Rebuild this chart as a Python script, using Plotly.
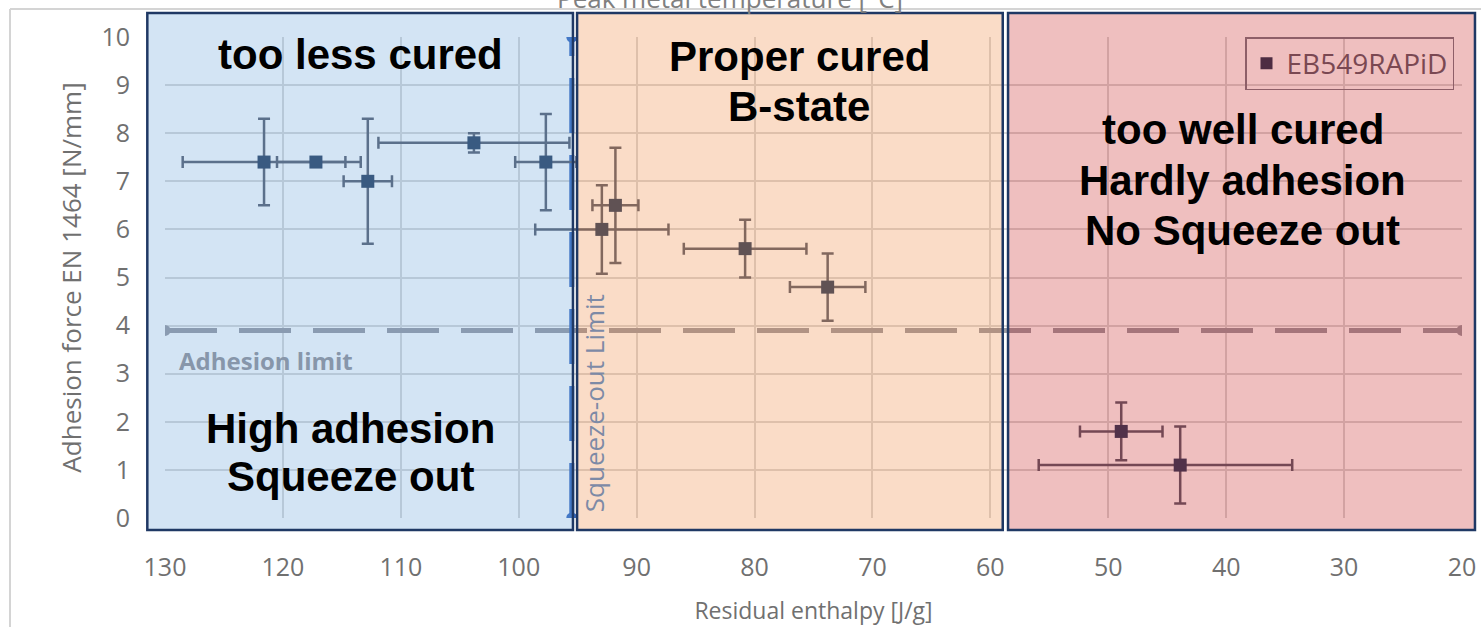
import plotly.graph_objects as go

# Residual enthalpy [J/g] of each sample and its horizontal spread
enthalpy = [121.6, 117.2, 112.8, 103.8, 97.7, 92.95, 91.8, 80.8, 73.8, 48.9, 43.9]
enthalpy_plus = [6.9, 3.3, 2.05, 8.1, 2.6, 5.65, 1.95, 5.2, 3.2, 3.5, 12.0]
enthalpy_minus = [8.2, 2.5, 2.05, 8.1, 2.6, 5.65, 1.95, 5.2, 3.2, 3.5, 9.5]

# Adhesion force EN 1464 [N/mm] and its spread
adhesion = [7.4, 7.4, 7.0, 7.8, 7.4, 6.0, 6.5, 5.6, 4.8, 1.8, 1.1]
adhesion_err = [0.9, 0.0, 1.3, 0.2, 1.0, 0.92, 1.2, 0.6, 0.7, 0.6, 0.8]

series_name = "EB549RAPiD"

# Limit lines
adhesion_limit_x = [130, 20]
adhesion_limit_y = [3.9, 3.9]
squeeze_limit_x = [95.5, 95.5]
squeeze_limit_y = [0, 10]

# Axis setup
x_range = [130, 20]
y_range = [0, 10]
x_ticks = [130, 120, 110, 100, 90, 80, 70, 60, 50, 40, 30, 20]
y_ticks = list(range(0, 11))

# Curing regions (enthalpy bounds) and their tints
regions = [
    dict(x0=131.5, x1=95.4, fill="rgba(91,155,213,0.27)"),
    dict(x0=95.05, x1=58.95, fill="rgba(237,125,49,0.27)"),
    dict(x0=58.5, x1=18.9, fill="rgba(192,0,0,0.25)"),
]
region_y = (-0.25, 10.5)

W, H = 1481, 627
M = dict(l=165, r=19, t=37, b=109)
plot_w = W - M["l"] - M["r"]
plot_h = H - M["t"] - M["b"]


def xpaper(v):
    return (x_range[0] - v) / (x_range[0] - x_range[1])


def ypaper(v):
    return (v - y_range[0]) / (y_range[1] - y_range[0])


def px_x(p):
    return (p - M["l"]) / plot_w


def px_y(p):
    return (H - M["b"] - p) / plot_h


fig = go.Figure()

fig.add_trace(go.Scatter(
    x=adhesion_limit_x, y=adhesion_limit_y, mode="lines+markers",
    line=dict(color="#9c9ca4", width=5, dash="52px,22px"),
    marker=dict(size=11, color="#9c9ca4"),
    showlegend=False, hoverinfo="skip",
))

fig.add_trace(go.Scatter(
    x=squeeze_limit_x, y=squeeze_limit_y, mode="lines+markers",
    line=dict(color="#3a6bc0", width=5, dash="55px,22px"),
    marker=dict(size=11, color="#3a6bc0"),
    showlegend=False, hoverinfo="skip",
))

fig.add_trace(go.Scatter(
    x=enthalpy, y=adhesion, mode="markers", name=series_name,
    marker=dict(symbol="square", size=13, color="#2c4262"),
    error_x=dict(type="data", array=enthalpy_plus, arrayminus=enthalpy_minus,
                 symmetric=False, color="#5b6070", thickness=2.5, width=6),
    error_y=dict(type="data", array=adhesion_err, color="#5b6070",
                 thickness=2.5, width=6),
    showlegend=False,
))

# legend entry in the tint of the region it sits in
fig.add_trace(go.Scatter(
    x=[None], y=[None], mode="markers", name=series_name,
    marker=dict(symbol="square", size=12, color="#4d2c42"),
))

shapes = []
# outer chart frame
shapes.append(dict(type="line", xref="paper", yref="paper",
                   x0=px_x(10), x1=px_x(W), y0=px_y(9), y1=px_y(9),
                   line=dict(color="#d4d4d4", width=2)))
shapes.append(dict(type="line", xref="paper", yref="paper",
                   x0=px_x(10), x1=px_x(10), y0=px_y(9), y1=px_y(H),
                   line=dict(color="#d4d4d4", width=2)))
for r in regions:
    shapes.append(dict(
        type="rect", xref="paper", yref="paper", layer="above",
        x0=xpaper(r["x0"]), x1=xpaper(r["x1"]),
        y0=ypaper(region_y[0]), y1=ypaper(region_y[1]),
        fillcolor=r["fill"], line=dict(color="#1f3864", width=2.5),
    ))

big = dict(family="Liberation Sans, Arial, sans-serif", size=42, color="#000000")
# region captions: (enthalpy centre, adhesion centre, text)
captions = [
    (113.4, 9.63, "too less cured"),
    (76.2, 9.60, "Proper cured"),
    (76.2, 8.55, "B-state"),
    (38.6, 8.07, "too well cured"),
    (38.6, 7.02, "Hardly adhesion"),
    (38.6, 5.97, "No Squeeze out"),
    (114.3, 1.87, "High adhesion"),
    (114.3, 0.87, "Squeeze out"),
]
annotations = [dict(x=cx, y=cy, text="<b>%s</b>" % t, font=big) for cx, cy, t in captions]
annotations += [
    dict(x=129.0, y=3.28, xanchor="left", text="<b>Adhesion limit</b>",
         font=dict(family="Open Sans, sans-serif", size=24, color="#8796aa")),
    dict(x=93.6, y=2.39, text="Squeeze-out Limit", textangle=-90,
         font=dict(family="Open Sans, sans-serif", size=26, color="#7d8aa6")),
    dict(xref="paper", yref="paper", x=px_x(730), y=px_y(-2),
         text="Peak metal temperature [°C]",
         font=dict(family="Open Sans, sans-serif", size=26, color="#808080")),
]
for a in annotations:
    a.setdefault("xref", "x")
    a.setdefault("yref", "y")
    a.setdefault("showarrow", False)
    a.setdefault("xanchor", "center")
    a.setdefault("yanchor", "middle")

tick_font = dict(family="Open Sans, sans-serif", size=25, color="#707070")
title_font = dict(family="Open Sans, sans-serif", size=23, color="#707070")

fig.update_layout(
    width=W, height=H, margin=dict(M, autoexpand=False),
    paper_bgcolor="white", plot_bgcolor="white",
    shapes=shapes, annotations=annotations,
    legend=dict(x=px_x(1245), y=1.0, xanchor="left", yanchor="top",
                bgcolor="rgba(0,0,0,0)", bordercolor="#8e5f68", borderwidth=1.5,
                font=dict(family="Open Sans, sans-serif", size=28, color="#7a4852")),
    xaxis=dict(range=x_range, tickvals=x_ticks, tickfont=tick_font, automargin=False,
               showgrid=True, gridcolor="#d9d9d9", gridwidth=1.5,
               zeroline=False, showline=False, ticklabelstandoff=32,
               title=dict(text="Residual enthalpy [J/g]", standoff=20, font=title_font)),
    yaxis=dict(range=y_range, tickvals=y_ticks, tickfont=tick_font, automargin=False,
               showgrid=True, gridcolor="#d9d9d9", gridwidth=1.5,
               zeroline=False, showline=False, ticklabelstandoff=34,
               title=dict(text="Adhesion force EN 1464 [N/mm]", standoff=12,
                          font=dict(family="Open Sans, sans-serif", size=26, color="#707070"))),
)

fig.write_html("out.html")
